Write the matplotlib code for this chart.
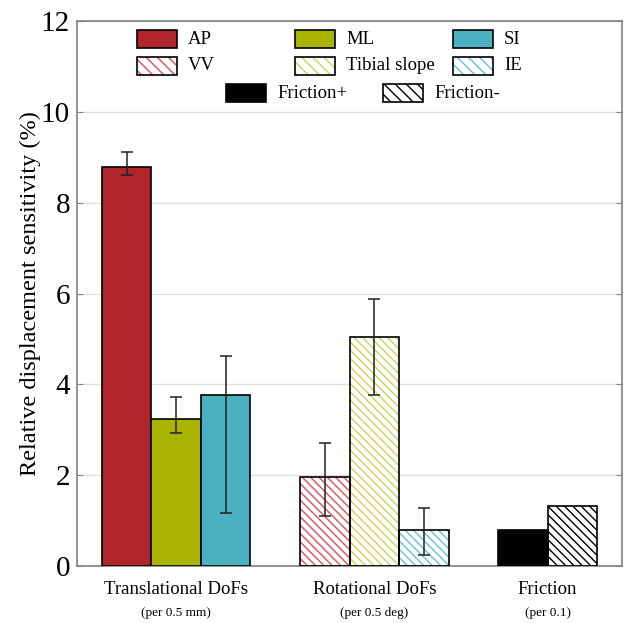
import matplotlib
matplotlib.use('Agg')
import matplotlib.pyplot as plt
import matplotlib.transforms as mtransforms
from matplotlib.patches import Rectangle

plt.rcParams['font.family'] = ['Liberation Serif', 'DejaVu Serif']
plt.rcParams['hatch.linewidth'] = 1.0

# data
labels = ['AP', 'ML', 'SI', 'VV', 'Tibial slope', 'IE', 'Friction+', 'Friction-']
positions = [0, 1, 2, 4, 5, 6, 8, 9]
values = [8.78, 3.23, 3.76, 1.96, 5.05, 0.79, 0.79, 1.32]
err_low = [8.60, 2.92, 1.16, 1.10, 3.76, 0.24, None, None]
err_high = [9.12, 3.72, 4.62, 2.70, 5.87, 1.27, None, None]
colors = ['#B0262A', '#A9B400', '#4BB0C0', '#DA5058', '#CDD25A', '#62C3D5', 'black', 'black']
hatched = [False, False, False, True, True, True, False, True]

groups = ['Translational DoFs', 'Rotational DoFs', 'Friction']
group_sub = ['(per 0.5 mm)', '(per 0.5 deg)', '(per 0.1)']
group_pos = [1, 5, 8.5]

W, H = 627, 623
fig = plt.figure(figsize=(W / 100, H / 100), dpi=100)
ax = fig.add_axes([77 / W, 1 - 566 / H, 545 / W, 545 / H])

for i in range(len(values)):
    if hatched[i]:
        ax.bar(positions[i], values[i], width=1.0, color='white', edgecolor=colors[i],
               hatch='\\\\\\\\', linewidth=0, zorder=2)
        ax.bar(positions[i], values[i], width=1.0, fill=False, edgecolor='black',
               linewidth=1.2, zorder=3)
    else:
        ax.bar(positions[i], values[i], width=1.0, color=colors[i], edgecolor='black',
               linewidth=1.2, zorder=3)
    if err_low[i] is not None:
        mid = (err_low[i] + err_high[i]) / 2
        ax.errorbar(positions[i], mid, yerr=[[mid - err_low[i]], [err_high[i] - mid]],
                    fmt='none', ecolor='#222222', elinewidth=1.1, capsize=4, capthick=1.1,
                    zorder=4)

ax.set_xlim(-1, 10)
ax.set_ylim(0, 12)
ax.set_yticks([0, 2, 4, 6, 8, 10, 12])
ax.set_xticks([])
ax.tick_params(axis='y', direction='in', right=True, length=4, color='#888888',
               labelsize=21, pad=5)
for s in ax.spines.values():
    s.set_color('#808080')
    s.set_linewidth(1.2)
ax.yaxis.grid(True, color='#e0e0e0', linewidth=1, zorder=0)
ax.set_axisbelow(True)
ax.set_ylabel('Relative displacement sensitivity (%)', fontsize=17.5)
ax.yaxis.set_label_coords(-0.066, 0.5)

trans = mtransforms.blended_transform_factory(ax.transData, fig.transFigure)
for g, sub, p in zip(groups, group_sub, group_pos):
    ax.text(p, 1 - 590 / H, g, transform=trans, ha='center', va='center', fontsize=13.5)
    ax.text(p, 1 - 613 / H, sub, transform=trans, ha='center', va='center', fontsize=9.5)

# legend entries placed like the original (fixed column grid)
leg_items = [(0, 137, 39), (1, 295, 39), (2, 453, 39),
             (3, 137, 66), (4, 295, 66), (5, 453, 66),
             (6, 226, 93), (7, 383, 93)]
for i, x0, yc in leg_items:
    x = x0 / W
    y = 1 - (yc + 9) / H
    w, h = 40 / W, 18 / H
    if hatched[i]:
        fig.add_artist(Rectangle((x, y), w, h, transform=fig.transFigure, facecolor='white',
                                 edgecolor=colors[i], hatch='\\\\\\', linewidth=0))
        fig.add_artist(Rectangle((x, y), w, h, transform=fig.transFigure, fill=False,
                                 edgecolor='black', linewidth=1.2))
    else:
        fig.add_artist(Rectangle((x, y), w, h, transform=fig.transFigure,
                                 facecolor=colors[i], edgecolor='black', linewidth=1.2))
    fig.text((x0 + 51) / W, 1 - yc / H, labels[i], ha='left', va='center', fontsize=13.5)

fig.savefig('out.png', dpi=100)
